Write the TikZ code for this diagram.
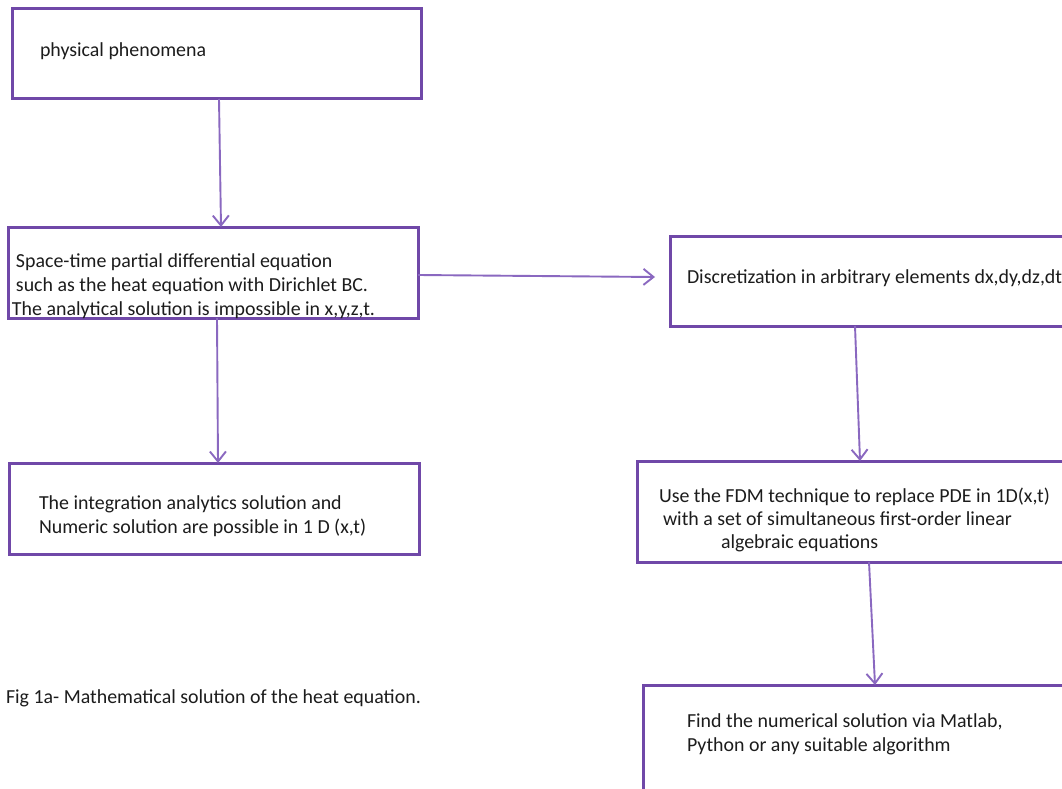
\documentclass[tikz,border=0pt]{standalone}
\usepackage{fontspec}
\setmainfont{Carlito}
\usetikzlibrary{arrows.meta,calc}
\definecolor{boxc}{RGB}{112,72,168}
\definecolor{connc}{RGB}{138,104,192}
\definecolor{txtc}{RGB}{28,28,28}
\tikzset{
  box/.style={draw=boxc, line width=3pt, rectangle, anchor=north west, inner sep=0pt, outer sep=0pt},
  conn/.style={draw=connc, line width=1.9pt, -{Straight Barb[length=10pt,width=16pt,line width=1.9pt]}},
  lbl/.style={anchor=base west, inner sep=0pt, outer sep=0pt, text=txtc, font=\fontsize{19.9}{24}\selectfont}
}
\begin{document}
\begin{tikzpicture}[x=1pt,y=-1pt]
\clip (0,0) rectangle (1062,789);
\fill[white] (0,0) rectangle (1062,789);
% boxes
\node[box, minimum width=409pt, minimum height=90pt] (A) at (12,9) {};
\node[box, minimum width=410pt, minimum height=91pt] (B) at (8,227) {};
\node[box, minimum width=410pt, minimum height=91pt] (C) at (9,463) {};
\node[box, minimum width=420pt, minimum height=90pt] (D) at (670,236) {};
\node[box, minimum width=450pt, minimum height=101pt] (E) at (637,461) {};
\node[box, minimum width=450pt, minimum height=130pt] (F) at (643,685) {};
% texts
\node[lbl] (tA) at (40,57) {physical phenomena};
\node[lbl] (tB1) at (16,267) {Space-time partial differential equation};
\node[lbl] (tB2) at (16,291) {such as the heat equation with Dirichlet BC.};
\node[lbl] (tB3) at (12,315) {The analytical solution is impossible in x,y,z,t.};
\node[lbl] (tC1) at (39,509) {The integration analytics solution and};
\node[lbl] (tC2) at (39,533) {Numeric solution are possible in 1 D (x,t)};
\node[lbl] (tD) at (687,283) {Discretization in arbitrary elements dx,dy,dz,dt};
\node[lbl] (tE1) at (659,502) {Use the FDM technique to replace PDE in 1D(x,t)};
\node[lbl] (tE2) at (663,525) {with a set of simultaneous first-order linear};
\node[lbl] (tE3) at (721,548) {algebraic equations};
\node[lbl] (tF1) at (687,727) {Find the numerical solution via Matlab,};
\node[lbl] (tF2) at (687,751) {Python or any suitable algorithm};
\node[lbl] (cap) at (6,703) {Fig 1a- Mathematical solution of the heat equation.};
% connectors
\draw[conn] ($(A.south west)+(207,0)$) -- ($(B.north west)+(213,0)$);
\draw[conn] ($(B.south west)+(209,0)$) -- ($(C.north west)+(209,0)$);
\draw[conn] ($(B.north east)+(0,48)$) -- ($(D.north west)+(-15,41)$);
\draw[conn] ($(D.south west)+(185,0)$) -- ($(E.north west)+(223,0)$);
\draw[conn] ($(E.south west)+(232,0)$) -- ($(F.north west)+(232,0)$);
\end{tikzpicture}
\end{document}
